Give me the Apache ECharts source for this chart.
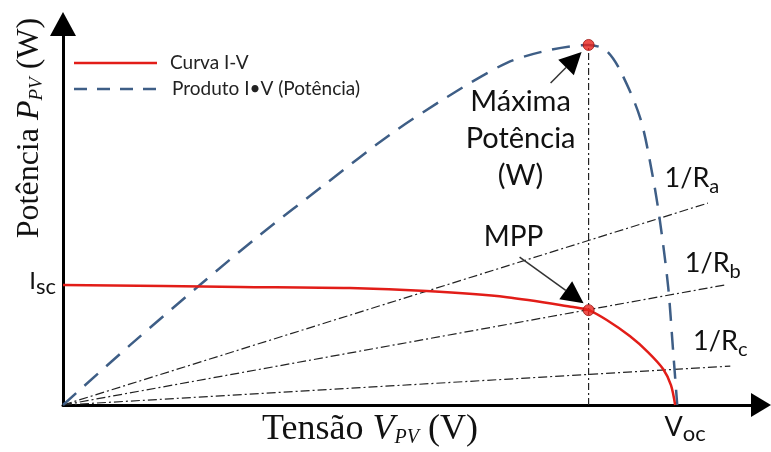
<!DOCTYPE html>
<html><head><meta charset="utf-8">
<script src="https://cdn.jsdelivr.net/npm/echarts@6/dist/echarts.min.js"></script>
<style>html,body{margin:0;padding:0;background:#fff}#c{width:771px;height:452px}</style>
</head><body><div id="c"></div>
<script>
// I-V curve (voltage, current) in relative units
const ivV = [0, 25.4, 41.1, 52.1, 63.6, 73.1, 75.3, 77.9, 81.2, 83.8, 86.0, 87.1, 87.7];
const ivI = [31.5, 31.0, 30.7, 29.9, 28.3, 25.7, 24.9, 22.3, 18.1, 13.9, 9.4, 5.2, 0];
// Power curve (voltage, power)
const pV = [0, 9.6, 19.6, 28.2, 37.8, 46.8, 55.0, 63.6, 69.8, 75.3, 77.7, 79.8, 82.7, 84.4, 85.5, 86.7, 87.4, 88.0];
const pP = [0, 15.7, 31.5, 44.6, 58.3, 70.9, 80.8, 89.8, 93.2, 94.5, 93.2, 87.9, 75.3, 60.9, 48.6, 31.0, 14.4, 0];
// Maximum power point
const mppV = 75.3, mppI = 24.9, maxP = 94.5;
const vocV = 87.7;
// Load lines 1/R
const loadSubs = ['a', 'b', 'c'];
const loadEndV = [92.4, 95.1, 95.6];
const loadEndI = [53.0, 31.6, 10.2];
const seriesNames = ['Curva I-V', 'Produto I•V (Potência)'];

const SANS = 'Lato';
const SERIF = 'Liberation Serif';
const RED = '#e21d18', BLUE = '#3e5e86';
const zip = (a, b) => a.map((v, i) => [v, b[i]]);

const series = [
  { name: seriesNames[0], type: 'line', data: zip(ivV, ivI), symbol: 'none', smooth: 0.3,
    lineStyle: { color: RED, width: 2.5 }, itemStyle: { color: RED }, z: 4 },
  { name: seriesNames[1], type: 'line', data: zip(pV, pP), symbol: 'none', smooth: 0.3,
    lineStyle: { color: BLUE, width: 2.5, type: [18, 11] }, itemStyle: { color: BLUE }, z: 3 }
];
loadSubs.forEach((s, k) => {
  series.push({ type: 'line', data: [[0, 0], [loadEndV[k], loadEndI[k]]], symbol: 'none', silent: true,
    lineStyle: { color: '#222', width: 1.2, type: [9, 3, 2, 3] }, z: 2 });
});
series.push({ type: 'line', data: [[mppV, 0], [mppV, maxP]], symbol: 'none', silent: true,
  lineStyle: { color: '#222', width: 1.2, type: [7, 3, 2, 3] }, z: 2 });
series.push({ type: 'scatter', data: [[mppV, mppI], [mppV, maxP]], symbol: 'circle', symbolSize: 11,
  itemStyle: { color: '#e8231d', borderColor: '#9c1410', borderWidth: 1 }, z: 6 });

const axisLine = (size) => ({ show: true, symbol: ['none', 'triangle'], symbolSize: size,
  lineStyle: { color: '#000', width: 3 } });

const option = {
  animation: false,
  backgroundColor: '#fff',
  grid: { left: 63, right: 10, top: 24, bottom: 47 },
  xAxis: { type: 'value', min: 0, max: 100, axisLine: axisLine([24, 20]), axisTick: { show: false },
    axisLabel: { show: false }, splitLine: { show: false } },
  yAxis: { type: 'value', min: 0, max: 100, axisLine: axisLine([26, 24]), axisTick: { show: false },
    axisLabel: { show: false }, splitLine: { show: false } },
  series: series
};

const chart = echarts.init(document.getElementById('c'));
chart.setOption(option);

const px = (v, i) => chart.convertToPixel({ gridIndex: 0 }, [v, i]);
const mctx = document.createElement('canvas').getContext('2d');
function tw(font, s) { mctx.font = font; return mctx.measureText(s).width; }

function subText(x, y, main, sub, size, subSize, drop, align) {
  const w1 = tw(size + 'px ' + SANS, main), w2 = tw(subSize + 'px ' + SANS, sub);
  const x0 = align === 'right' ? x - w1 - w2 : align === 'center' ? x - (w1 + w2) / 2 : x;
  return [
    { type: 'text', x: x0, y: y, z: 10, style: { text: main, fontFamily: SANS, fontSize: size, fill: '#111',
      align: 'left', verticalAlign: 'middle' } },
    { type: 'text', x: x0 + w1, y: y + 0.3 * (size - subSize) + drop, z: 10, style: { text: sub, fontFamily: SANS,
      fontSize: subSize, fill: '#111', align: 'left', verticalAlign: 'middle' } }
  ];
}

function arrow(tail, tip, len, half) {
  const dx = tip[0] - tail[0], dy = tip[1] - tail[1];
  const L = Math.hypot(dx, dy), ux = dx / L, uy = dy / L;
  const bx = tip[0] - ux * len, by = tip[1] - uy * len;
  return [
    { type: 'line', z: 9, shape: { x1: tail[0], y1: tail[1], x2: bx, y2: by }, style: { stroke: '#333', lineWidth: 1.5 } },
    { type: 'polygon', z: 9, shape: { points: [tip, [bx - uy * half, by + ux * half], [bx + uy * half, by - ux * half]] },
      style: { fill: '#000' } }
  ];
}

const pMax = px(mppV, maxP), pMpp = px(mppV, mppI), pIsc = px(0, ivI[0]), pVoc = px(vocV, 0);
let graphics = [];

// legend (drawn manually)
graphics.push({ type: 'line', shape: { x1: 74, y1: 63, x2: 157, y2: 63 }, style: { stroke: RED, lineWidth: 2.5 } });
graphics.push({ type: 'text', x: 170, y: 63, style: { text: seriesNames[0], fontFamily: SANS, fontSize: 19,
  fill: '#222', verticalAlign: 'middle' } });
graphics.push({ type: 'line', shape: { x1: 74, y1: 89, x2: 157, y2: 89 }, style: { stroke: BLUE, lineWidth: 2.5, lineDash: [13, 10] } });
graphics.push({ type: 'text', x: 172, y: 89, style: { text: seriesNames[1], fontFamily: SANS, fontSize: 19,
  fill: '#222', verticalAlign: 'middle' } });

// axis titles
graphics.push({ type: 'text', x: 26, y: 128, rotation: Math.PI / 2, z: 10, style: {
  text: '{n|Potência }{i|P}{s|PV}{n| (W)}', align: 'center', verticalAlign: 'middle',
  rich: {
    n: { fontFamily: SERIF, fontSize: 32, fill: '#111', lineHeight: 40, verticalAlign: 'bottom' },
    i: { fontFamily: SERIF, fontSize: 32, fill: '#111', lineHeight: 40, verticalAlign: 'bottom', fontStyle: 'italic' },
    s: { fontFamily: SERIF, fontSize: 19, fill: '#111', lineHeight: 20, verticalAlign: 'bottom', fontStyle: 'italic' }
  } } });
graphics.push({ type: 'text', x: 370, y: 428, z: 10, style: {
  text: '{n|Tensão }{i|V}{s|PV}{n| (V)}', align: 'center', verticalAlign: 'middle',
  rich: {
    n: { fontFamily: SERIF, fontSize: 36, fill: '#111', lineHeight: 40, verticalAlign: 'bottom' },
    i: { fontFamily: SERIF, fontSize: 36, fill: '#111', lineHeight: 40, verticalAlign: 'bottom', fontStyle: 'italic' },
    s: { fontFamily: SERIF, fontSize: 20, fill: '#111', lineHeight: 20, verticalAlign: 'bottom', fontStyle: 'italic' }
  } } });

// Isc and Voc
graphics = graphics.concat(subText(pIsc[0] - 7, pIsc[1] - 4, 'I', 'sc', 24, 22, 5, 'right'));
graphics = graphics.concat(subText(pVoc[0] + 10, pVoc[1] + 22, 'V', 'oc', 27, 22, 5, 'center'));

// Load line labels
loadSubs.forEach((s, k) => {
  const e = px(loadEndV[k], loadEndI[k]);
  const off = [[-16, -25], [-14, -21], [-10, -25]][k];
  graphics = graphics.concat(subText(e[0] + off[0], e[1] + off[1], '1/R', s, 27, 20, 6, 'center'));
});

// Máxima Potência text
graphics.push({ type: 'text', x: pMax[0] - 68, y: pMax[1] + 94, z: 10, style: {
  text: 'Máxima\nPotência\n(W)', align: 'center', verticalAlign: 'middle',
  fontFamily: SANS, fontSize: 29, lineHeight: 37, fill: '#111' } });
graphics.push({ type: 'text', x: pMpp[0] - 75, y: pMpp[1] - 73, z: 10, style: {
  text: 'MPP', align: 'center', verticalAlign: 'middle', fontFamily: SANS, fontSize: 28, fill: '#111' } });

// Arrows
graphics = graphics.concat(arrow([pMax[0] - 38, pMax[1] + 38], [pMax[0] - 7, pMax[1] + 7], 22, 11));
graphics = graphics.concat(arrow([pMpp[0] - 69, pMpp[1] - 53], [pMpp[0] - 5, pMpp[1] - 7], 22, 11));

chart.setOption({ graphic: graphics });
</script></body></html>
